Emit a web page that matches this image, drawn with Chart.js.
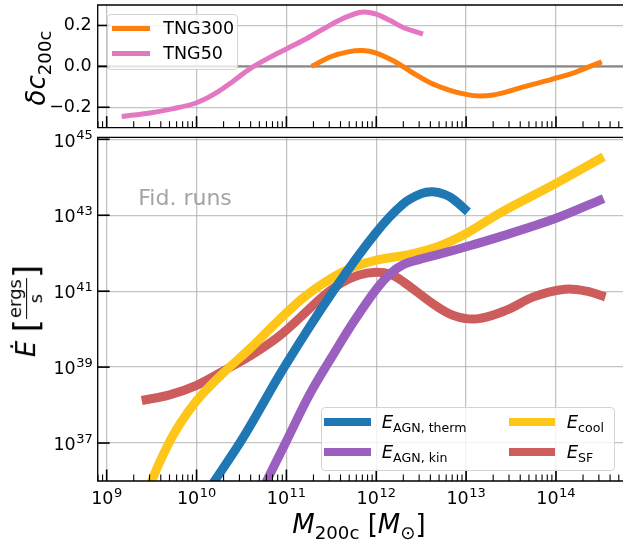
<!DOCTYPE html>
<html><head><meta charset="utf-8">
<script src="https://cdn.jsdelivr.net/npm/chart.js@4"></script>
<style>
body{margin:0;width:623px;height:542px;overflow:hidden;position:relative;background:#fff;font-family:"DejaVu Sans";}
canvas{position:absolute;left:0;}
.t{position:absolute;white-space:nowrap;line-height:1;color:#000;font-family:"DejaVu Sans";}
.sub{font-size:70%;position:relative;top:0.32em;font-style:normal;}
i{font-style:italic;}
.leg{position:absolute;background:rgba(255,255,255,0.8);border:1px solid #d4d4d4;border-radius:4px;box-sizing:border-box;}
.ll{position:absolute;}
</style></head><body>
<canvas id="c1" width="640" height="136" style="top:0"></canvas>
<canvas id="c2" width="640" height="414" style="top:128px"></canvas>

<div class="t" style="left:138.3px;top:187.4px;font-size:22px;color:#a4a4a4;">Fid. runs</div>

<div class="leg" style="left:106.7px;top:14px;width:131.3px;height:56px;"></div>
<div class="ll" style="left:111.7px;top:25.8px;width:38.3px;height:5px;background:#ff7f0e;"></div>
<div class="ll" style="left:111.7px;top:50.8px;width:38.3px;height:5px;background:#e377c2;"></div>
<div class="t" style="left:163.3px;top:19.9px;font-size:17.5px;">TNG300</div>
<div class="t" style="left:163.3px;top:44.9px;font-size:17.5px;">TNG50</div>

<div class="leg" style="left:320.7px;top:406.7px;width:294.3px;height:64px;"></div>
<div class="ll" style="left:324px;top:417.7px;width:46.7px;height:8px;background:#1f77b4;"></div>
<div class="ll" style="left:324px;top:447.7px;width:46.7px;height:8px;background:#9b5fc0;"></div>
<div class="ll" style="left:509.3px;top:417.7px;width:45.7px;height:8px;background:#ffc61a;"></div>
<div class="ll" style="left:509.3px;top:447.7px;width:45.7px;height:8px;background:#cd5c5c;"></div>
<div class="t" style="left:381.7px;top:413.1px;font-size:18px;"><i>E</i><span class="sub">AGN, therm</span></div>
<div class="t" style="left:381.7px;top:443.1px;font-size:18px;"><i>E</i><span class="sub">AGN, kin</span></div>
<div class="t" style="left:566.7px;top:413.1px;font-size:18px;"><i>E</i><span class="sub">cool</span></div>
<div class="t" style="left:566.7px;top:443.1px;font-size:18px;"><i>E</i><span class="sub">SF</span></div>

<div class="t" style="left:36px;top:67.5px;transform:translate(-50%,-50%) rotate(-90deg);font-size:26px;"><i>δc</i><span class="sub">200c</span></div>
<div class="t" style="left:359px;top:510.7px;transform:translateX(-50%);font-size:26px;"><i>M</i><span class="sub">200c</span> [<i>M</i><span class="sub">⊙</span>]</div>
<div class="t" style="left:26px;top:311px;transform:translate(-50%,-50%) rotate(-90deg);font-size:26px;display:flex;align-items:center;">
 <i>Ė</i>&nbsp;<span style="font-size:34px;">[</span><span style="display:inline-flex;flex-direction:column;align-items:center;font-size:18px;line-height:1.05;"><span style="border-bottom:1.6px solid #000;padding:0 1px 1px;">ergs</span><span>s</span></span><span style="font-size:34px;">]</span>
</div>

<script>
// ---- data (log10 values) ----
const logM_TNG300 = [11.28, 11.5, 11.7, 11.85, 12.0, 12.2, 12.4, 12.6, 12.82, 13.0, 13.15, 13.3, 13.45, 13.6, 13.75, 13.9, 14.0, 14.19, 14.38, 14.51];
const dc_TNG300   = [0.0, 0.048, 0.072, 0.077, 0.065, 0.025, -0.03, -0.08, -0.117, -0.137, -0.145, -0.14, -0.125, -0.105, -0.087, -0.07, -0.057, -0.033, 0.0, 0.022];
const logM_TNG50  = [9.167, 9.482, 9.741, 10.0, 10.2, 10.4, 10.6, 10.8, 11.0, 11.2, 11.4, 11.6, 11.8, 11.9, 12.0, 12.15, 12.3, 12.52];
const dc_TNG50    = [-0.245, -0.228, -0.207, -0.178, -0.135, -0.075, -0.01, 0.04, 0.085, 0.13, 0.18, 0.228, 0.262, 0.265, 0.255, 0.225, 0.19, 0.158];

const logM_therm = [10.18, 10.2, 10.52, 10.976, 11.52, 12.0, 12.3, 12.5, 12.63, 12.76, 12.86, 13.02];
const logE_therm = [35.93, 36.0, 37.15, 39.0, 41.0, 42.55, 43.3, 43.57, 43.62, 43.55, 43.42, 43.09];
const logM_kin   = [10.76, 10.78, 11.0, 11.263, 11.55, 11.75, 12.0, 12.15, 12.3, 12.5, 12.63, 13.0, 13.37, 14.0, 14.53];
const logE_kin   = [35.9, 36.0, 37.05, 38.3, 39.44, 40.2, 41.05, 41.45, 41.7, 41.85, 41.93, 42.17, 42.43, 42.92, 43.44];
const logM_cool  = [9.49, 9.50, 9.6, 9.75, 9.9, 10.05, 10.3, 10.6, 10.9, 11.2, 11.52, 11.75, 12.0, 12.37, 12.71, 13.0, 13.37, 14.0, 14.53];
const logE_cool  = [35.94, 36.0, 36.55, 37.25, 37.8, 38.25, 38.85, 39.5, 40.2, 40.85, 41.37, 41.64, 41.82, 41.97, 42.2, 42.52, 43.05, 43.84, 44.54];
const logM_SF    = [9.39, 9.7, 10.0, 10.3, 10.6, 10.9, 11.15, 11.4, 11.6, 11.8, 12.0, 12.15, 12.3, 12.63, 12.86, 13.12, 13.45, 13.75, 14.1, 14.34, 14.55];
const logE_SF    = [38.12, 38.27, 38.52, 38.9, 39.3, 39.78, 40.3, 40.85, 41.2, 41.42, 41.5, 41.45, 41.25, 40.67, 40.36, 40.27, 40.5, 40.85, 41.05, 41.0, 40.85];

const xTickExp  = [9, 10, 11, 12, 13, 14];
const yTickExp  = [37, 39, 41, 43, 45];
const dcTicks   = [-0.2, 0.0, 0.2];

// ---- helpers ----
const P = v => Math.pow(10, v);
const pts = (xs, ys, ylog) => xs.map((x, i) => ({x: P(x), y: ylog ? P(ys[i]) : ys[i]}));

Chart.defaults.font.family = 'DejaVu Sans';
Chart.defaults.color = '#000';

const X_MIN = P(8.9), X_MAX = P(14.8237);
const GRID = {color: 'rgba(176,176,176,0.75)', lineWidth: 1.3, drawTicks: false};

const frameTicks = {
  id: 'frameTicks',
  beforeDatasetsDraw(chart) {
    const o = chart.options.plugins.frameTicks;
    if (o && o.zero) {
      const a = chart.chartArea, ctx = chart.ctx, y = chart.scales.y.getPixelForValue(0);
      ctx.save(); ctx.strokeStyle = '#888'; ctx.lineWidth = 2.2;
      ctx.beginPath(); ctx.moveTo(a.left, y); ctx.lineTo(a.right, y); ctx.stroke(); ctx.restore();
    }
  },
  afterDraw(chart) {
    const o = chart.options.plugins.frameTicks || {};
    const a = chart.chartArea, ctx = chart.ctx, xs = chart.scales.x, ys = chart.scales.y;
    ctx.save();
    ctx.strokeStyle = '#000';
    const d0 = Math.floor(Math.log10(xs.min)), d1 = Math.ceil(Math.log10(xs.max));
    for (let d = d0; d <= d1; d++) {
      for (let k = 1; k <= 9; k++) {
        const v = k * Math.pow(10, d);
        if (v < xs.min || v > xs.max) continue;
        const px = xs.getPixelForValue(v);
        ctx.lineWidth = k === 1 ? 1.6 : 1.1;
        const len = k === 1 ? 11.5 : 6.5;
        ctx.beginPath(); ctx.moveTo(px, a.bottom); ctx.lineTo(px, a.bottom - len); ctx.stroke();
      }
    }
    ys.ticks.forEach(t => {
      const py = ys.getPixelForValue(t.value);
      ctx.lineWidth = 1.6;
      ctx.beginPath(); ctx.moveTo(a.left, py); ctx.lineTo(a.left + 12, py); ctx.stroke();
    });
    ctx.lineWidth = 1.3;
    ctx.beginPath();
    ctx.moveTo(a.right, a.top); ctx.lineTo(a.left, a.top); ctx.lineTo(a.left, a.bottom); ctx.lineTo(a.right, a.bottom);
    ctx.stroke();
    // power-of-ten tick labels (10 with raised exponent), placed by the scales
    if (o.powLabels) {
      ctx.fillStyle = '#000'; ctx.textBaseline = 'alphabetic'; ctx.textAlign = 'left';
      const BF = '17.5px "DejaVu Sans"', EF = '13px "DejaVu Sans"';
      const draw = (exp, leftX, baseY) => {
        ctx.font = BF; const w1 = ctx.measureText('10').width;
        ctx.fillText('10', leftX, baseY);
        ctx.font = EF; ctx.fillText(String(exp), leftX + w1 + 0.5, baseY - 7.4);
      };
      const widthOf = exp => { ctx.font = BF; const w1 = ctx.measureText('10').width; ctx.font = EF; return w1 + 0.5 + ctx.measureText(String(exp)).width; };
      xs.ticks.forEach(t => {
        const e = Math.round(Math.log10(t.value));
        const px = xs.getPixelForValue(t.value);
        draw(e, px - widthOf(e) / 2, a.bottom + 23.3);
      });
      ys.ticks.forEach(t => {
        const e = Math.round(Math.log10(t.value));
        const py = ys.getPixelForValue(t.value);
        draw(e, a.left - 5 - widthOf(e), py + 7.2);
      });
    }
    ctx.restore();
  }
};

const noPad = s => { s.paddingTop = 0; s.paddingBottom = 0; s.paddingLeft = 0; s.paddingRight = 0; };

const ds = (data, color, w) => ({data, borderColor: color, borderWidth: w, pointRadius: 0, fill: false,
  tension: 0.35, borderCapStyle: 'butt', borderJoinStyle: 'round', clip: 0});

// ---- top panel ----
new Chart(document.getElementById('c1'), {
  type: 'line',
  data: {datasets: [
    ds(pts(logM_TNG300, dc_TNG300, false), '#ff7f0e', 5),
    ds(pts(logM_TNG50, dc_TNG50, false), '#e377c2', 5)
  ]},
  options: {
    responsive: false, animation: false, events: [],
    layout: {padding: {top: 5, right: 10, left: 0, bottom: 0}},
    plugins: {legend: {display: false}, tooltip: {enabled: false}, frameTicks: {zero: true}},
    scales: {
      x: {type: 'logarithmic', min: X_MIN, max: X_MAX, grid: GRID, border: {display: false},
          ticks: {display: false},
          afterBuildTicks: s => { s.ticks = xTickExp.map(e => ({value: P(e)})); },
          afterFit: s => { s.height = 136 - 127.7; noPad(s); }},
      y: {type: 'linear', min: -0.3, max: 0.3, grid: GRID, border: {display: false},
          ticks: {padding: 6, font: {size: 17.5}, callback: v => (v < 0 ? '−' : '') + Math.abs(v).toFixed(1)},
          afterBuildTicks: s => { s.ticks = dcTicks.map(v => ({value: v})); },
          afterFit: s => { s.width = 97.7; noPad(s); }}
    }
  },
  plugins: [frameTicks]
});

// ---- bottom panel ----
new Chart(document.getElementById('c2'), {
  type: 'line',
  data: {datasets: [
    ds(pts(logM_therm, logE_therm, true), '#1f77b4', 9),
    ds(pts(logM_kin, logE_kin, true), '#9b5fc0', 9),
    ds(pts(logM_cool, logE_cool, true), '#ffc61a', 9),
    ds(pts(logM_SF, logE_SF, true), '#cd5c5c', 9)
  ]},
  options: {
    responsive: false, animation: false, events: [],
    layout: {padding: {top: 137.3 - 128, right: 10, left: 0, bottom: 0}},
    plugins: {legend: {display: false}, tooltip: {enabled: false}, frameTicks: {zero: false, powLabels: true}},
    scales: {
      x: {type: 'logarithmic', min: X_MIN, max: X_MAX, grid: GRID, border: {display: false},
          ticks: {display: false},
          afterBuildTicks: s => { s.ticks = xTickExp.map(e => ({value: P(e)})); },
          afterFit: s => { s.height = 542 - 481; noPad(s); }},
      y: {type: 'logarithmic', min: P(36), max: P(45.053), grid: GRID, border: {display: false},
          ticks: {display: false},
          afterBuildTicks: s => { s.ticks = yTickExp.map(e => ({value: P(e)})); },
          afterFit: s => { s.width = 97.7; noPad(s); }}
    }
  },
  plugins: [frameTicks]
});
</script>
</body></html>
